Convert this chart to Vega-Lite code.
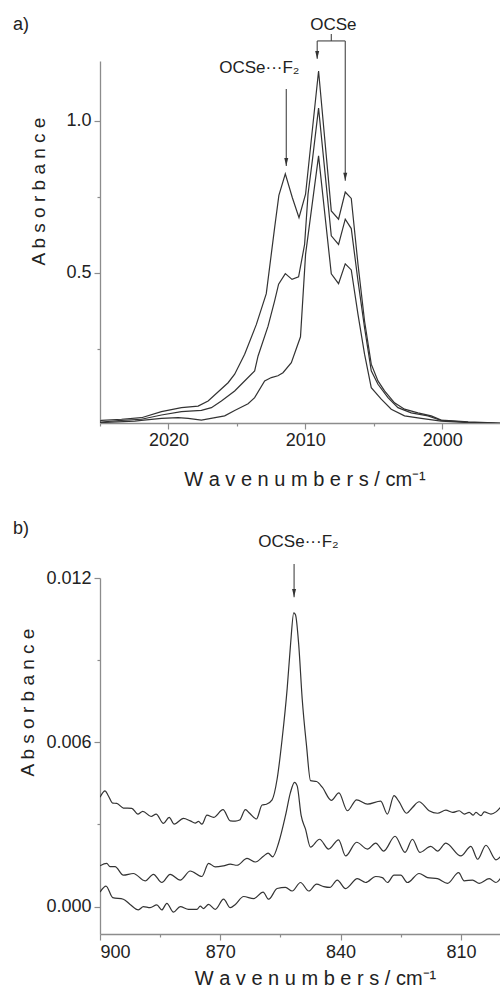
{
  "$schema": "https://vega.github.io/schema/vega-lite/v6.json",
  "padding": {"left": 12, "top": 15, "right": 0, "bottom": 0},
  "spacing": 30,
  "config": {
    "view": {"stroke": null},
    "font": "Liberation Sans",
    "axis": {"grid": false, "domainColor": "#8c8c8c", "domainWidth": 1.3, "tickColor": "#8c8c8c", "tickWidth": 1.2, "labelFont": "Liberation Sans", "labelFontSize": 18, "labelColor": "#222", "titleFont": "Liberation Sans", "titleFontSize": 19, "titleFontWeight": "normal", "titleColor": "#222"},
    "text": {"font": "Liberation Sans", "color": "#222"}
  },
  "vconcat": [
    {
      "width": 401,
      "height": 362,
      "encoding": {
        "x": {"field": "wn", "type": "quantitative", "scale": {"domain": [2025, 1995.7], "nice": false, "zero": false},
          "axis": {"values": [2025, 2020, 2015, 2010, 2005, 2000], "format": "d", "labelExpr": "datum.value % 10 === 0 ? datum.label : ''", "tickSize": {"condition": {"test": "datum.value % 10 === 0", "value": 6}, "value": 3}, "labelPadding": 2, "title": "W a v e n u m b e r s / cm⁻¹", "titleFontSize": 20, "titlePadding": 20, "titleX": 204.5}},
        "y": {"field": "A", "type": "quantitative", "scale": {"domain": [0.0066, 1.197], "nice": false, "zero": false},
          "axis": {"values": [0.25, 0.5, 0.75, 1.0], "format": ".1f", "labelExpr": "datum.value === 0.5 || datum.value === 1 ? datum.label : ''", "tickSize": {"condition": {"test": "datum.value === 0.5 || datum.value === 1", "value": 6}, "value": 3}, "labelPadding": 3, "title": "A b s o r b a n c e", "titlePadding": 17, "titleY": 130}}
      },
      "layer": [
        {
          "data": {"values": [
            {"s": "T", "wn": 2025.0, "A": 0.012}, {"s": "T", "wn": 2024.89, "A": 0.0155}, {"s": "T", "wn": 2023.43, "A": 0.019}, {"s": "T", "wn": 2021.97, "A": 0.024}, {"s": "T", "wn": 2020.51, "A": 0.044}, {"s": "T", "wn": 2019.05, "A": 0.057}, {"s": "T", "wn": 2017.83, "A": 0.062}, {"s": "T", "wn": 2017.10, "A": 0.079}, {"s": "T", "wn": 2015.64, "A": 0.139}, {"s": "T", "wn": 2015.16, "A": 0.167}, {"s": "T", "wn": 2014.43, "A": 0.233}, {"s": "T", "wn": 2013.58, "A": 0.33}, {"s": "T", "wn": 2012.85, "A": 0.432}, {"s": "T", "wn": 2012.24, "A": 0.649}, {"s": "T", "wn": 2011.93, "A": 0.755}, {"s": "T", "wn": 2011.46, "A": 0.826}, {"s": "T", "wn": 2010.95, "A": 0.748}, {"s": "T", "wn": 2010.46, "A": 0.682}, {"s": "T", "wn": 2009.98, "A": 0.759}, {"s": "T", "wn": 2009.03, "A": 1.164}, {"s": "T", "wn": 2008.10, "A": 0.704}, {"s": "T", "wn": 2007.57, "A": 0.677}, {"s": "T", "wn": 2007.08, "A": 0.766}, {"s": "T", "wn": 2006.64, "A": 0.745}, {"s": "T", "wn": 2006.15, "A": 0.529}, {"s": "T", "wn": 2005.67, "A": 0.342}, {"s": "T", "wn": 2005.18, "A": 0.200}, {"s": "T", "wn": 2004.69, "A": 0.145}, {"s": "T", "wn": 2004.21, "A": 0.112}, {"s": "T", "wn": 2003.48, "A": 0.073}, {"s": "T", "wn": 2002.75, "A": 0.052}, {"s": "T", "wn": 2001.77, "A": 0.040}, {"s": "T", "wn": 2000.80, "A": 0.030}, {"s": "T", "wn": 2000.07, "A": 0.016}, {"s": "T", "wn": 1998.1, "A": 0.010}, {"s": "T", "wn": 1995.7, "A": 0.006},
            {"s": "M", "wn": 2025.0, "A": 0.008}, {"s": "M", "wn": 2024.9, "A": 0.010}, {"s": "M", "wn": 2023.43, "A": 0.0155}, {"s": "M", "wn": 2021.97, "A": 0.019}, {"s": "M", "wn": 2020.51, "A": 0.033}, {"s": "M", "wn": 2019.05, "A": 0.044}, {"s": "M", "wn": 2017.59, "A": 0.048}, {"s": "M", "wn": 2016.86, "A": 0.057}, {"s": "M", "wn": 2016.13, "A": 0.079}, {"s": "M", "wn": 2015.16, "A": 0.112}, {"s": "M", "wn": 2014.67, "A": 0.134}, {"s": "M", "wn": 2013.7, "A": 0.178}, {"s": "M", "wn": 2013.45, "A": 0.227}, {"s": "M", "wn": 2012.72, "A": 0.325}, {"s": "M", "wn": 2012.24, "A": 0.408}, {"s": "M", "wn": 2011.95, "A": 0.463}, {"s": "M", "wn": 2011.46, "A": 0.498}, {"s": "M", "wn": 2010.97, "A": 0.479}, {"s": "M", "wn": 2010.49, "A": 0.487}, {"s": "M", "wn": 2010.05, "A": 0.594}, {"s": "M", "wn": 2009.8, "A": 0.759}, {"s": "M", "wn": 2009.49, "A": 0.868}, {"s": "M", "wn": 2009.03, "A": 1.042}, {"s": "M", "wn": 2008.10, "A": 0.622}, {"s": "M", "wn": 2007.57, "A": 0.594}, {"s": "M", "wn": 2007.08, "A": 0.677}, {"s": "M", "wn": 2006.64, "A": 0.646}, {"s": "M", "wn": 2006.15, "A": 0.474}, {"s": "M", "wn": 2005.67, "A": 0.32}, {"s": "M", "wn": 2005.18, "A": 0.178}, {"s": "M", "wn": 2004.69, "A": 0.134}, {"s": "M", "wn": 2003.96, "A": 0.09}, {"s": "M", "wn": 2003.23, "A": 0.057}, {"s": "M", "wn": 2002.26, "A": 0.040}, {"s": "M", "wn": 2001.04, "A": 0.030}, {"s": "M", "wn": 2000.07, "A": 0.015}, {"s": "M", "wn": 1998.1, "A": 0.009}, {"s": "M", "wn": 1995.7, "A": 0.005},
            {"s": "B", "wn": 2025.0, "A": 0.006}, {"s": "B", "wn": 2024.9, "A": 0.008}, {"s": "B", "wn": 2022.46, "A": 0.013}, {"s": "B", "wn": 2021.97, "A": 0.015}, {"s": "B", "wn": 2020.51, "A": 0.022}, {"s": "B", "wn": 2019.29, "A": 0.024}, {"s": "B", "wn": 2018.56, "A": 0.022}, {"s": "B", "wn": 2017.59, "A": 0.016}, {"s": "B", "wn": 2015.89, "A": 0.030}, {"s": "B", "wn": 2015.16, "A": 0.048}, {"s": "B", "wn": 2014.18, "A": 0.07}, {"s": "B", "wn": 2013.7, "A": 0.09}, {"s": "B", "wn": 2012.97, "A": 0.145}, {"s": "B", "wn": 2012.48, "A": 0.156}, {"s": "B", "wn": 2012.0, "A": 0.162}, {"s": "B", "wn": 2011.63, "A": 0.172}, {"s": "B", "wn": 2011.02, "A": 0.205}, {"s": "B", "wn": 2010.35, "A": 0.29}, {"s": "B", "wn": 2009.98, "A": 0.561}, {"s": "B", "wn": 2009.03, "A": 0.885}, {"s": "B", "wn": 2008.1, "A": 0.497}, {"s": "B", "wn": 2007.57, "A": 0.465}, {"s": "B", "wn": 2007.08, "A": 0.53}, {"s": "B", "wn": 2006.64, "A": 0.51}, {"s": "B", "wn": 2006.15, "A": 0.364}, {"s": "B", "wn": 2005.67, "A": 0.233}, {"s": "B", "wn": 2005.18, "A": 0.123}, {"s": "B", "wn": 2004.45, "A": 0.085}, {"s": "B", "wn": 2003.72, "A": 0.052}, {"s": "B", "wn": 2002.75, "A": 0.030}, {"s": "B", "wn": 2001.53, "A": 0.022}, {"s": "B", "wn": 2000.07, "A": 0.013}, {"s": "B", "wn": 1998.1, "A": 0.008}, {"s": "B", "wn": 1995.7, "A": 0.004}
          ]},
          "mark": {"type": "line", "color": "#333", "strokeWidth": 1.2, "clip": true},
          "encoding": {"detail": {"field": "s"}}
        },
        {
          "data": {"values": [
            {"wn": 2011.39, "A": 1.105, "wn2": 2011.39, "A2": 0.852},
            {"wn": 2008.1, "A": 1.286, "wn2": 2008.1, "A2": 1.263},
            {"wn": 2009.13, "A": 1.263, "wn2": 2007.08, "A2": 1.263},
            {"wn": 2009.13, "A": 1.263, "wn2": 2009.13, "A2": 1.204},
            {"wn": 2007.08, "A": 1.263, "wn2": 2007.08, "A2": 0.803}
          ]},
          "mark": {"type": "rule", "color": "#444", "strokeWidth": 1.1},
          "encoding": {"x2": {"field": "wn2"}, "y2": {"field": "A2"}}
        },
        {
          "data": {"values": [{"wn": 2011.39, "A": 0.865}, {"wn": 2009.13, "A": 1.217}, {"wn": 2007.08, "A": 0.816}]},
          "mark": {"type": "point", "shape": "M-0.5,-1L0.5,-1L0,1Z", "filled": true, "size": 64, "color": "#333", "opacity": 1},
          "encoding": {}
        },
        {
          "data": {"values": [{"label": "OCSe", "wn": 2007.95, "A": 1.316}, {"label": "OCSe···F₂", "wn": 2013.36, "A": 1.174}]},
          "mark": {"type": "text", "fontSize": 17, "align": "center", "baseline": "middle"},
          "encoding": {"text": {"field": "label"}}
        },
        {
          "data": {"values": [{"label": "a)", "wn": 2031.36, "A": 1.316}]},
          "mark": {"type": "text", "fontSize": 18, "align": "left", "baseline": "middle"},
          "encoding": {"text": {"field": "label"}}
        }
      ]
    },
    {
      "width": 401,
      "height": 356,
      "encoding": {
        "x": {"field": "wn", "type": "quantitative", "scale": {"domain": [900, 800], "nice": false, "zero": false},
          "axis": {"values": [900, 885, 870, 855, 840, 825, 810], "format": "d", "labelExpr": "datum.value % 30 === 0 ? datum.label : ''", "tickSize": {"condition": {"test": "datum.value % 30 === 0", "value": 6}, "value": 3}, "labelPadding": 3, "title": "W a v e n u m b e r s / cm⁻¹", "titleFontSize": 20, "titlePadding": 7, "titleX": 215}},
        "y": {"field": "A", "type": "quantitative", "scale": {"domain": [-0.001, 0.012], "nice": false, "zero": false},
          "axis": {"values": [0, 0.003, 0.006, 0.009, 0.012], "format": ".3f", "labelExpr": "round(datum.value * 1000) % 6 === 0 ? datum.label : ''", "tickSize": {"condition": {"test": "round(datum.value * 1000) % 6 === 0", "value": 6}, "value": 3}, "labelPadding": 3, "title": "A b s o r b a n c e", "titlePadding": 8, "titleY": 124}}
      },
      "layer": [
        {
          "data": {"values": [
            {"s": "T", "wn": 900.0, "A": 0.00399}, {"s": "T", "wn": 898.75, "A": 0.00423}, {"s": "T", "wn": 897.93, "A": 0.00405}, {"s": "T", "wn": 896.83, "A": 0.00378}, {"s": "T", "wn": 895.83, "A": 0.00377}, {"s": "T", "wn": 894.18, "A": 0.00360}, {"s": "T", "wn": 892.08, "A": 0.00359}, {"s": "T", "wn": 890.58, "A": 0.00338}, {"s": "T", "wn": 889.33, "A": 0.00348}, {"s": "T", "wn": 887.25, "A": 0.00329}, {"s": "T", "wn": 886.0, "A": 0.00338}, {"s": "T", "wn": 884.18, "A": 0.00304}, {"s": "T", "wn": 882.75, "A": 0.00326}, {"s": "T", "wn": 881.5, "A": 0.00301}, {"s": "T", "wn": 879.18, "A": 0.00322}, {"s": "T", "wn": 877.5, "A": 0.00313}, {"s": "T", "wn": 876.25, "A": 0.00305}, {"s": "T", "wn": 875.43, "A": 0.00311}, {"s": "T", "wn": 874.58, "A": 0.00301}, {"s": "T", "wn": 873.33, "A": 0.00334}, {"s": "T", "wn": 871.68, "A": 0.00326}, {"s": "T", "wn": 869.33, "A": 0.00354}, {"s": "T", "wn": 867.5, "A": 0.00313}, {"s": "T", "wn": 866.25, "A": 0.00312}, {"s": "T", "wn": 865.18, "A": 0.00316}, {"s": "T", "wn": 863.75, "A": 0.00354}, {"s": "T", "wn": 862.68, "A": 0.00341}, {"s": "T", "wn": 861.0, "A": 0.00320}, {"s": "T", "wn": 859.58, "A": 0.00371}, {"s": "T", "wn": 858.5, "A": 0.00374}, {"s": "T", "wn": 857.08, "A": 0.00390}, {"s": "T", "wn": 855.83, "A": 0.00466}, {"s": "T", "wn": 854.58, "A": 0.00612}, {"s": "T", "wn": 853.33, "A": 0.00795}, {"s": "T", "wn": 852.5, "A": 0.00954}, {"s": "T", "wn": 851.68, "A": 0.01073}, {"s": "T", "wn": 851.25, "A": 0.01066}, {"s": "T", "wn": 850.43, "A": 0.00954}, {"s": "T", "wn": 849.58, "A": 0.00759}, {"s": "T", "wn": 848.5, "A": 0.00588}, {"s": "T", "wn": 847.5, "A": 0.00460}, {"s": "T", "wn": 846.0, "A": 0.00457}, {"s": "T", "wn": 844.58, "A": 0.00436}, {"s": "T", "wn": 842.3, "A": 0.00388}, {"s": "T", "wn": 840.43, "A": 0.00415}, {"s": "T", "wn": 838.3, "A": 0.00350}, {"s": "T", "wn": 836.0, "A": 0.00390}, {"s": "T", "wn": 833.3, "A": 0.00374}, {"s": "T", "wn": 830.0, "A": 0.00385}, {"s": "T", "wn": 828.33, "A": 0.00338}, {"s": "T", "wn": 826.68, "A": 0.00405}, {"s": "T", "wn": 825.43, "A": 0.00383}, {"s": "T", "wn": 823.58, "A": 0.00341}, {"s": "T", "wn": 822.08, "A": 0.00362}, {"s": "T", "wn": 820.43, "A": 0.00383}, {"s": "T", "wn": 817.93, "A": 0.00350}, {"s": "T", "wn": 815.83, "A": 0.00341}, {"s": "T", "wn": 813.75, "A": 0.00352}, {"s": "T", "wn": 812.08, "A": 0.00344}, {"s": "T", "wn": 810.43, "A": 0.00350}, {"s": "T", "wn": 809.18, "A": 0.00338}, {"s": "T", "wn": 807.93, "A": 0.00344}, {"s": "T", "wn": 806.93, "A": 0.00334}, {"s": "T", "wn": 806.25, "A": 0.00344}, {"s": "T", "wn": 805.0, "A": 0.00332}, {"s": "T", "wn": 804.18, "A": 0.00346}, {"s": "T", "wn": 802.5, "A": 0.00338}, {"s": "T", "wn": 801.25, "A": 0.00346}, {"s": "T", "wn": 800.0, "A": 0.00365},
            {"s": "M", "wn": 900.0, "A": 0.00149}, {"s": "M", "wn": 898.33, "A": 0.00158}, {"s": "M", "wn": 897.5, "A": 0.00146}, {"s": "M", "wn": 896.25, "A": 0.00146}, {"s": "M", "wn": 894.18, "A": 0.00115}, {"s": "M", "wn": 891.68, "A": 0.00121}, {"s": "M", "wn": 888.75, "A": 0.00094}, {"s": "M", "wn": 886.68, "A": 0.00118}, {"s": "M", "wn": 884.58, "A": 0.00088}, {"s": "M", "wn": 882.5, "A": 0.00118}, {"s": "M", "wn": 880.0, "A": 0.00097}, {"s": "M", "wn": 877.5, "A": 0.00130}, {"s": "M", "wn": 874.58, "A": 0.00110}, {"s": "M", "wn": 872.93, "A": 0.00158}, {"s": "M", "wn": 871.25, "A": 0.00145}, {"s": "M", "wn": 869.18, "A": 0.00149}, {"s": "M", "wn": 867.5, "A": 0.00155}, {"s": "M", "wn": 865.83, "A": 0.00151}, {"s": "M", "wn": 863.33, "A": 0.00176}, {"s": "M", "wn": 861.25, "A": 0.00163}, {"s": "M", "wn": 859.18, "A": 0.00185}, {"s": "M", "wn": 858.08, "A": 0.00195}, {"s": "M", "wn": 856.93, "A": 0.00182}, {"s": "M", "wn": 855.43, "A": 0.00234}, {"s": "M", "wn": 853.75, "A": 0.00332}, {"s": "M", "wn": 852.5, "A": 0.00417}, {"s": "M", "wn": 851.5, "A": 0.00454}, {"s": "M", "wn": 850.83, "A": 0.00441}, {"s": "M", "wn": 849.83, "A": 0.00332}, {"s": "M", "wn": 848.75, "A": 0.00283}, {"s": "M", "wn": 847.5, "A": 0.00217}, {"s": "M", "wn": 845.25, "A": 0.00246}, {"s": "M", "wn": 843.0, "A": 0.00210}, {"s": "M", "wn": 840.5, "A": 0.00244}, {"s": "M", "wn": 838.75, "A": 0.00185}, {"s": "M", "wn": 836.0, "A": 0.00235}, {"s": "M", "wn": 833.33, "A": 0.00210}, {"s": "M", "wn": 831.25, "A": 0.00232}, {"s": "M", "wn": 829.25, "A": 0.00203}, {"s": "M", "wn": 826.43, "A": 0.00257}, {"s": "M", "wn": 823.93, "A": 0.00198}, {"s": "M", "wn": 822.08, "A": 0.00246}, {"s": "M", "wn": 820.25, "A": 0.00198}, {"s": "M", "wn": 817.5, "A": 0.00220}, {"s": "M", "wn": 815.83, "A": 0.00203}, {"s": "M", "wn": 813.75, "A": 0.00232}, {"s": "M", "wn": 810.0, "A": 0.00185}, {"s": "M", "wn": 807.5, "A": 0.00220}, {"s": "M", "wn": 805.83, "A": 0.00173}, {"s": "M", "wn": 803.75, "A": 0.00224}, {"s": "M", "wn": 801.25, "A": 0.00171}, {"s": "M", "wn": 800.0, "A": 0.00185},
            {"s": "B", "wn": 900.0, "A": 0.00053}, {"s": "B", "wn": 898.5, "A": 0.00075}, {"s": "B", "wn": 896.83, "A": 0.00033}, {"s": "B", "wn": 894.18, "A": 0.00027}, {"s": "B", "wn": 892.5, "A": 0.00008}, {"s": "B", "wn": 890.43, "A": -0.00012}, {"s": "B", "wn": 889.18, "A": 0.0}, {"s": "B", "wn": 887.5, "A": -0.00004}, {"s": "B", "wn": 885.83, "A": 0.00006}, {"s": "B", "wn": 884.58, "A": -0.00012}, {"s": "B", "wn": 883.33, "A": 0.00012}, {"s": "B", "wn": 881.68, "A": -0.0002}, {"s": "B", "wn": 880.0, "A": 0.0}, {"s": "B", "wn": 877.93, "A": -0.0001}, {"s": "B", "wn": 875.83, "A": -0.0001}, {"s": "B", "wn": 875.0, "A": 0.00002}, {"s": "B", "wn": 874.18, "A": -0.00007}, {"s": "B", "wn": 872.93, "A": 0.00008}, {"s": "B", "wn": 871.25, "A": -0.0001}, {"s": "B", "wn": 869.18, "A": 0.00027}, {"s": "B", "wn": 867.5, "A": -0.00004}, {"s": "B", "wn": 866.25, "A": 0.00008}, {"s": "B", "wn": 864.18, "A": 0.00037}, {"s": "B", "wn": 861.68, "A": 0.00029}, {"s": "B", "wn": 859.33, "A": 0.00053}, {"s": "B", "wn": 857.93, "A": 0.00027}, {"s": "B", "wn": 855.83, "A": 0.00066}, {"s": "B", "wn": 853.75, "A": 0.0007}, {"s": "B", "wn": 852.08, "A": 0.00057}, {"s": "B", "wn": 850.0, "A": 0.00088}, {"s": "B", "wn": 847.93, "A": 0.00057}, {"s": "B", "wn": 846.0, "A": 0.00082}, {"s": "B", "wn": 844.18, "A": 0.00073}, {"s": "B", "wn": 842.68, "A": 0.0007}, {"s": "B", "wn": 840.83, "A": 0.00097}, {"s": "B", "wn": 838.75, "A": 0.00066}, {"s": "B", "wn": 835.83, "A": 0.00102}, {"s": "B", "wn": 833.75, "A": 0.00088}, {"s": "B", "wn": 831.25, "A": 0.0011}, {"s": "B", "wn": 829.58, "A": 0.00106}, {"s": "B", "wn": 828.33, "A": 0.00088}, {"s": "B", "wn": 826.68, "A": 0.00115}, {"s": "B", "wn": 825.0, "A": 0.00115}, {"s": "B", "wn": 823.33, "A": 0.00088}, {"s": "B", "wn": 820.43, "A": 0.00121}, {"s": "B", "wn": 818.33, "A": 0.00106}, {"s": "B", "wn": 815.83, "A": 0.00102}, {"s": "B", "wn": 813.33, "A": 0.00085}, {"s": "B", "wn": 810.58, "A": 0.00124}, {"s": "B", "wn": 809.18, "A": 0.00094}, {"s": "B", "wn": 807.08, "A": 0.00097}, {"s": "B", "wn": 805.43, "A": 0.00085}, {"s": "B", "wn": 802.93, "A": 0.00102}, {"s": "B", "wn": 801.25, "A": 0.00088}, {"s": "B", "wn": 800.0, "A": 0.00106}
          ]},
          "mark": {"type": "line", "color": "#333", "strokeWidth": 1.2, "interpolate": "monotone", "clip": true},
          "encoding": {"detail": {"field": "s"}}
        },
        {
          "data": {"values": [{"wn": 851.6, "A": 0.01251, "wn2": 851.6, "A2": 0.0113}]},
          "mark": {"type": "rule", "color": "#444", "strokeWidth": 1.1},
          "encoding": {"x2": {"field": "wn2"}, "y2": {"field": "A2"}}
        },
        {
          "data": {"values": [{"wn": 851.6, "A": 0.01145}]},
          "mark": {"type": "point", "shape": "M-0.5,-1L0.5,-1L0,1Z", "filled": true, "size": 64, "color": "#333", "opacity": 1},
          "encoding": {}
        },
        {
          "data": {"values": [{"label": "OCSe···F₂", "wn": 850.5, "A": 0.01333}]},
          "mark": {"type": "text", "fontSize": 17, "align": "center", "baseline": "middle"},
          "encoding": {"text": {"field": "label"}}
        },
        {
          "data": {"values": [{"label": "b)", "wn": 921.7, "A": 0.01379}]},
          "mark": {"type": "text", "fontSize": 18, "align": "left", "baseline": "middle"},
          "encoding": {"text": {"field": "label"}}
        }
      ]
    }
  ]
}
